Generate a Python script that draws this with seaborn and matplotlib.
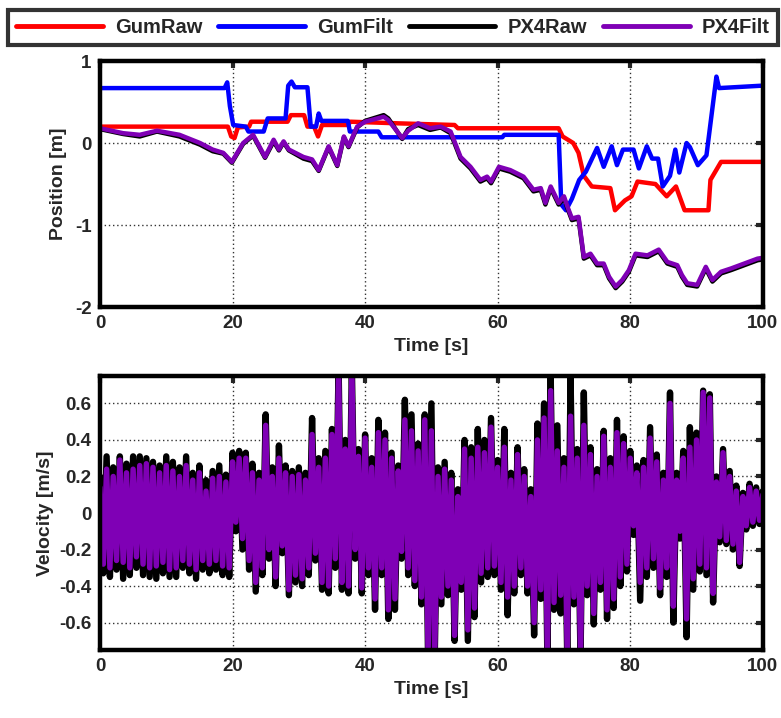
import numpy as np
import matplotlib
matplotlib.use("Agg")
import matplotlib.pyplot as plt
from matplotlib.ticker import FuncFormatter
import seaborn as sns

# ---------------- data ----------------
gum_filt_t = [0, 18.8, 19.2, 19.6, 20.1, 22.0, 22.4, 24.7, 25.3, 28.0, 28.4, 28.9, 29.4, 31.3, 31.8,
              32.6, 33.0, 33.4, 37.4, 37.7, 42.0, 42.5, 60.7, 61.0, 69.2, 69.6, 70.3, 71.2, 72.3, 73.3,
              75.0, 76.0, 77.2, 78.0, 78.9, 80.5, 81.3, 82.5, 83.3, 84.2, 84.9, 86.0, 86.8, 87.4, 88.5,
              89.0, 90.2, 91.5, 93.0, 93.4, 100]
gum_filt_v = [0.67, 0.67, 0.74, 0.45, 0.22, 0.20, 0.14, 0.14, 0.30, 0.30, 0.70, 0.75, 0.68, 0.68, 0.20,
              0.20, 0.36, 0.27, 0.27, 0.14, 0.14, 0.07, 0.07, 0.10, 0.10, -0.75, -0.82, -0.68, -0.45, -0.35,
              -0.06, -0.29, -0.04, -0.27, -0.08, -0.08, -0.31, -0.04, -0.19, -0.19, -0.53, -0.40, -0.08, -0.36, 0.0,
              -0.05, -0.27, -0.15, 0.81, 0.67, 0.70]

gum_raw_t = [0, 19.3, 19.8, 20.3, 20.8, 22.5, 22.8, 28.3, 28.8, 30.8, 31.3, 32.3, 32.9, 33.5, 37.4,
             37.8, 45.0, 53.5, 54.0, 69.2, 69.8, 71.4, 72.2, 73.0, 74.2, 77.0, 77.7, 79.2, 80.2, 81.1,
             83.8, 85.5, 86.9, 88.2, 91.8, 92.1, 93.7, 100]
gum_raw_v = [0.20, 0.20, 0.08, 0.06, 0.19, 0.20, 0.26, 0.26, 0.34, 0.34, 0.20, 0.20, 0.08, 0.22, 0.22,
             0.26, 0.24, 0.22, 0.18, 0.18, 0.08, 0.00, -0.12, -0.40, -0.53, -0.55, -0.82, -0.70, -0.65, -0.47,
             -0.50, -0.65, -0.53, -0.82, -0.82, -0.45, -0.23, -0.23]

px4_t = [0, 3.5, 6, 8.6, 12, 15.1, 17, 18.6, 19.9, 21.6,
         23.1, 24.9, 26.2, 27, 27.7, 28.5, 30.7, 32, 33, 34.5,
         35.8, 36.8, 37.5, 38.8, 40, 42.8, 43.5, 45.6, 46.5, 48,
         49.8, 51.4, 52.9, 54.4, 55.9, 57.4, 58.4, 59, 60.2, 61.9,
         63.9, 65.4, 66.5, 67.2, 68, 69.2, 70, 70.5, 71.2, 72.2,
         73, 74, 75, 76, 76.8, 77.8, 78.8, 79.8, 80.8, 82.6,
         84.3, 85.6, 87.1, 87.8, 88.6, 90.1, 91.4, 92.4, 93.7, 95.2,
         99.2, 100]
px4_filt_v = [0.18, 0.12, 0.10, 0.15, 0.10, 0.0, -0.08, -0.12, -0.23, 0.0,
              0.10, -0.17, 0.04, -0.08, 0.02, -0.08, -0.17, -0.20, -0.33, -0.04,
              -0.27, 0.08, -0.04, 0.20, 0.26, 0.32, 0.28, 0.06, 0.15, 0.24,
              0.18, 0.20, 0.14, -0.17, -0.29, -0.45, -0.41, -0.47, -0.29, -0.33,
              -0.41, -0.57, -0.55, -0.73, -0.53, -0.73, -0.65, -0.77, -0.92, -0.90,
              -1.39, -1.35, -1.47, -1.47, -1.63, -1.75, -1.67, -1.55, -1.35, -1.37,
              -1.30, -1.45, -1.49, -1.61, -1.71, -1.73, -1.51, -1.67, -1.57, -1.53,
              -1.41, -1.40]
px4_raw_v = [0.17, 0.11, 0.08, 0.14, 0.08, -0.02, -0.10, -0.13, -0.24, -0.01,
             0.09, -0.18, 0.02, -0.09, 0.01, -0.09, -0.19, -0.22, -0.34, -0.05,
             -0.28, 0.07, -0.05, 0.19, 0.27, 0.34, 0.30, 0.05, 0.17, 0.22,
             0.16, 0.19, 0.12, -0.19, -0.31, -0.47, -0.43, -0.49, -0.31, -0.35,
             -0.43, -0.59, -0.57, -0.75, -0.55, -0.75, -0.67, -0.79, -0.94, -0.92,
             -1.41, -1.37, -1.49, -1.49, -1.65, -1.77, -1.69, -1.57, -1.37, -1.39,
             -1.32, -1.47, -1.51, -1.63, -1.73, -1.75, -1.53, -1.69, -1.59, -1.55,
             -1.43, -1.42]

# velocity, sampled every 0.5 s (alternating crest / trough), t = 0 ... 100
vel_filt = [0.14, -0.28, 0.24, -0.30, 0.20, -0.26, 0.29, -0.27, 0.22, -0.30,
            0.24, -0.24, 0.26, -0.28, 0.27, -0.30, 0.25, -0.29, 0.22, -0.27,
            0.26, -0.31, 0.23, -0.30, 0.20, -0.26, 0.26, -0.28, 0.18, -0.31,
            0.22, -0.26, 0.12, -0.28, 0.19, -0.26, 0.20, -0.29, 0.17, -0.30,
            0.28, -0.05, 0.30, -0.14, 0.30, -0.26, 0.22, -0.38, 0.18, -0.30,
            0.48, -0.20, 0.20, -0.35, 0.30, -0.18, 0.22, -0.42, 0.20, -0.34,
            0.21, -0.36, 0.18, -0.30, 0.43, -0.22, 0.25, -0.38, 0.30, -0.40,
            0.43, -0.25, 0.78, -0.38, 0.35, -0.40, 0.78, -0.20, 0.31, -0.41,
            0.41, -0.30, 0.25, -0.47, 0.44, -0.30, 0.40, -0.53, 0.30, -0.47,
            0.23, -0.21, 0.51, -0.30, 0.45, -0.37, 0.34, -0.46, 0.51, -0.78,
            0.45, -0.78, 0.20, -0.46, 0.24, -0.40, 0.18, -0.67, 0.09, -0.38,
            0.35, -0.64, 0.30, -0.52, 0.36, -0.33, 0.33, -0.30, 0.47, -0.29,
            0.25, -0.38, 0.36, -0.46, 0.18, -0.40, 0.32, -0.30, 0.20, -0.40,
            0.09, -0.60, 0.40, -0.42, 0.52, -0.78, 0.67, -0.49, 0.34, -0.45,
            0.25, -0.78, 0.53, -0.46, 0.30, -0.78, 0.48, -0.40, 0.32, -0.55,
            0.20, -0.38, 0.42, -0.53, 0.25, -0.47, 0.44, -0.35, 0.38, -0.28,
            0.30, -0.07, 0.22, -0.38, 0.25, -0.30, 0.41, -0.25, 0.28, -0.41,
            0.18, -0.30, 0.60, -0.51, 0.18, -0.10, 0.30, -0.58, 0.36, -0.36,
            0.40, -0.28, 0.66, -0.30, 0.63, -0.44, 0.17, -0.13, 0.33, -0.15,
            0.20, -0.17, 0.12, -0.27, 0.09, -0.07, 0.14, -0.05, 0.12, -0.04,
            0.10]
vel_raw = [0.20, -0.33, 0.31, -0.35, 0.25, -0.31, 0.31, -0.36, 0.27, -0.34,
           0.31, -0.30, 0.31, -0.34, 0.30, -0.35, 0.28, -0.36, 0.26, -0.33,
           0.31, -0.35, 0.28, -0.35, 0.25, -0.30, 0.31, -0.33, 0.22, -0.36,
           0.26, -0.31, 0.18, -0.33, 0.23, -0.31, 0.26, -0.34, 0.21, -0.35,
           0.33, -0.10, 0.34, -0.20, 0.33, -0.31, 0.27, -0.43, 0.22, -0.34,
           0.54, -0.25, 0.25, -0.40, 0.37, -0.22, 0.26, -0.45, 0.23, -0.38,
           0.25, -0.40, 0.22, -0.34, 0.52, -0.26, 0.30, -0.42, 0.34, -0.44,
           0.46, -0.30, 0.80, -0.42, 0.40, -0.44, 0.80, -0.25, 0.35, -0.44,
           0.43, -0.34, 0.30, -0.53, 0.51, -0.34, 0.44, -0.58, 0.33, -0.53,
           0.26, -0.25, 0.62, -0.34, 0.54, -0.40, 0.38, -0.50, 0.54, -0.80,
           0.60, -0.80, 0.25, -0.50, 0.28, -0.45, 0.22, -0.70, 0.13, -0.42,
           0.40, -0.70, 0.36, -0.57, 0.46, -0.38, 0.40, -0.35, 0.52, -0.34,
           0.29, -0.42, 0.46, -0.56, 0.22, -0.44, 0.36, -0.34, 0.24, -0.44,
           0.13, -0.67, 0.49, -0.47, 0.60, -0.80, 0.75, -0.53, 0.48, -0.55,
           0.30, -0.80, 0.74, -0.50, 0.35, -0.80, 0.66, -0.45, 0.36, -0.61,
           0.24, -0.42, 0.45, -0.58, 0.30, -0.52, 0.51, -0.40, 0.42, -0.32,
           0.34, -0.12, 0.26, -0.48, 0.29, -0.35, 0.47, -0.30, 0.32, -0.45,
           0.22, -0.35, 0.66, -0.60, 0.22, -0.14, 0.34, -0.68, 0.47, -0.42,
           0.44, -0.32, 0.67, -0.34, 0.65, -0.49, 0.20, -0.16, 0.35, -0.17,
           0.23, -0.20, 0.15, -0.29, 0.11, -0.09, 0.16, -0.07, 0.14, -0.06,
           0.12]
vel_t = np.linspace(0, 100, len(vel_filt))

labels = ["GumRaw", "GumFilt", "PX4Raw", "PX4Filt"]
colors = ["#FF0000", "#0000FF", "#000000", "#7F00B5"]

# ---------------- style ----------------
sns.set_style("white")
plt.rcParams["font.family"] = ["Liberation Sans", "DejaVu Sans"]
plt.rcParams["font.weight"] = "bold"
plt.rcParams["axes.labelweight"] = "bold"

fig = plt.figure(figsize=(7.81, 7.18), dpi=100)
ax1 = fig.add_axes([0.128, 0.5724, 0.8487, 0.3426])
ax2 = fig.add_axes([0.128, 0.0947, 0.8487, 0.3816])

series = [(gum_raw_t, gum_raw_v), (gum_filt_t, gum_filt_v), (px4_t, px4_raw_v), (px4_t, px4_filt_v)]
for (tt, vv), lab, col in zip(series, labels, colors):
    sns.lineplot(x=tt, y=vv, ax=ax1, color=col, linewidth=3.2, label=lab,
                 estimator=None, sort=False, legend=False)

sns.lineplot(x=vel_t, y=vel_raw, ax=ax2, color=colors[2], linewidth=4.6,
             estimator=None, sort=False, legend=False)
sns.lineplot(x=vel_t, y=vel_filt, ax=ax2, color=colors[3], linewidth=3.9,
             estimator=None, sort=False, legend=False)

fmt = FuncFormatter(lambda v, p: "%g" % round(v, 2))
for ax in (ax1, ax2):
    ax.set_xlim(0, 100)
    ax.set_xticks([0, 20, 40, 60, 80, 100])
    ax.grid(True, linestyle=(0, (1, 2)), color="black", linewidth=1.0, alpha=0.8)
    ax.tick_params(direction="in", length=5, width=3, top=True, right=True,
                   labelsize=13.5, pad=6)
    for s in ax.spines.values():
        s.set_linewidth(3.2)
        s.set_color("black")
        s.set_zorder(5)
    ax.yaxis.set_major_formatter(fmt)
    ax.set_xlabel("Time [s]", fontsize=14, fontweight="bold", labelpad=4)
    for lbl in ax.get_xticklabels() + ax.get_yticklabels():
        lbl.set_fontweight("bold")

ax1.set_ylim(-2, 1)
ax1.set_yticks([-2, -1, 0, 1])
ax1.set_ylabel("Position [m]", fontsize=14, fontweight="bold", labelpad=6)

ax2.set_ylim(-0.75, 0.75)
ax2.set_yticks([-0.6, -0.4, -0.2, 0, 0.2, 0.4, 0.6])
ax2.set_ylabel("Velocity [m/s]", fontsize=14, fontweight="bold", labelpad=4)

handles, labs = ax1.get_legend_handles_labels()
leg = fig.legend(handles, labs, loc="lower left", ncol=4, mode="expand",
                 bbox_to_anchor=(0.0102, 0.9373, 0.9858, 0.0557),
                 frameon=True, fancybox=False, shadow=False, handlelength=4.3,
                 handletextpad=0.6, borderaxespad=0.0, columnspacing=1.0,
                 prop={"weight": "bold", "size": 14.5})
leg.get_frame().set_edgecolor("black")
leg.get_frame().set_linewidth(3.0)
for h in leg.legend_handles:
    h.set_linewidth(3.5)

fig.savefig("out.png", dpi=100)
